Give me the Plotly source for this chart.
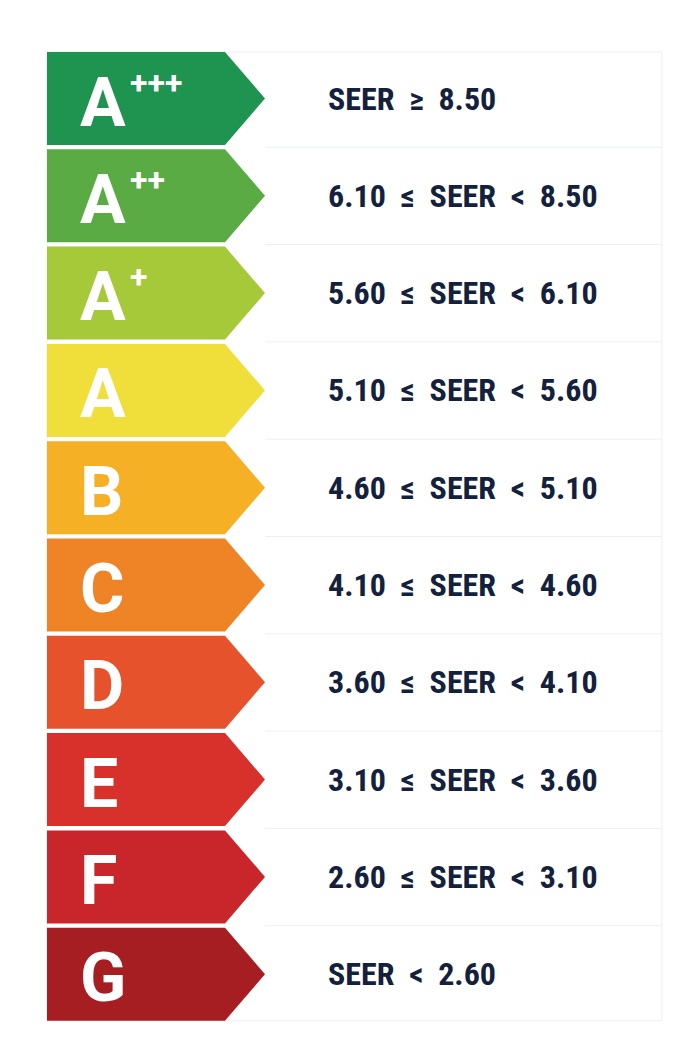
import plotly.graph_objects as go

classes = ["A", "A", "A", "A", "B", "C", "D", "E", "F", "G"]
supers = ["+++", "++", "+", "", "", "", "", "", "", ""]
ranges = ["SEER  ≥  8.50", "6.10  ≤  SEER  <  8.50", "5.60  ≤  SEER  <  6.10",
          "5.10  ≤  SEER  <  5.60", "4.60  ≤  SEER  <  5.10", "4.10  ≤  SEER  <  4.60",
          "3.60  ≤  SEER  <  4.10", "3.10  ≤  SEER  <  3.60", "2.60  ≤  SEER  <  3.10",
          "SEER  <  2.60"]
colors = ["#1f9450", "#5aab44", "#a6c93a", "#f0df3a", "#f5b026", "#ef8426",
          "#e5522b", "#d8302b", "#c9262b", "#a71e22"]

off = 8
top0, pitch, h = 52 - off, 97.3, 93
x0, xb, xt, xr = 47 - off, 225 - off, 265 - off, 662 - off

fig = go.Figure()
shapes = [dict(type="rect", x0=x0, x1=xr, y0=top0, y1=top0 + 9 * pitch + h,
               fillcolor="white", line=dict(color="#eceff2", width=1), layer="below")]
ann = []
for i, (c, s, r, col) in enumerate(zip(classes, supers, ranges, colors)):
    y0 = top0 + i * pitch
    y1 = y0 + h
    ym = (y0 + y1) / 2
    shapes.append(dict(type="path",
                       path=f"M{x0},{y0} L{xb},{y0} L{xt},{ym} L{xb},{y1} L{x0},{y1} Z",
                       fillcolor=col, line=dict(width=0)))
    if i > 0:
        shapes.append(dict(type="line", x0=xt, x1=xr, y0=y0 - 2, y1=y0 - 2,
                           line=dict(color="#eceff2", width=1)))
    ann.append(dict(x=78 - off, y=ym + 4, text=f"<b>{c}</b>", showarrow=False, xanchor="left",
                    yanchor="middle", font=dict(family="Roboto", size=68, color="white")))
    if s:
        ann.append(dict(x=128 - off, y=ym - 16, text=f"<b>{s}</b>", showarrow=False, xanchor="left",
                        yanchor="middle", font=dict(family="Roboto", size=32, color="white")))
    ann.append(dict(x=326 - off, y=ym, text=f"<b>{r}</b>", showarrow=False, xanchor="left",
                    yanchor="middle", font=dict(family="Roboto Condensed, Roboto", size=32,
                                                color="#14213d")))

fig.update_layout(width=700, height=1050, margin=dict(l=0, r=0, t=0, b=0),
                  paper_bgcolor="white", plot_bgcolor="white",
                  xaxis=dict(range=[0, 700], visible=False, fixedrange=True),
                  yaxis=dict(range=[1050, 0], visible=False, fixedrange=True),
                  shapes=shapes, annotations=ann, showlegend=False)
fig.write_html("out.html")
